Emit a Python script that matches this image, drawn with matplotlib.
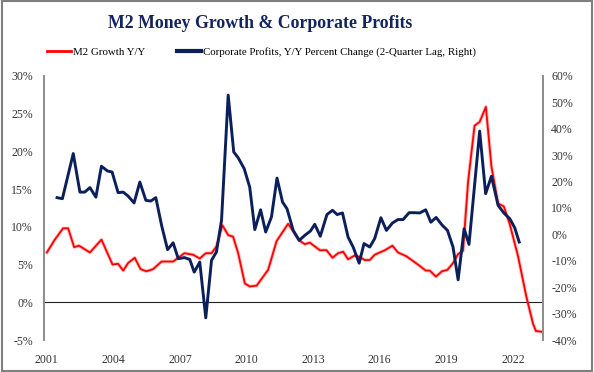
import matplotlib.pyplot as plt
import matplotlib.patches as mpatches
import matplotlib.ticker as ticker

# M2 growth y/y (left axis, %)
m2_x = [2001.0, 2001.36, 2001.73, 2001.96, 2002.23, 2002.45, 2002.94, 2003.46, 2003.96, 2004.21,
        2004.44, 2004.66, 2004.96, 2005.22, 2005.49, 2005.79, 2006.17, 2006.69, 2006.92, 2007.2,
        2007.59, 2007.89, 2008.16, 2008.42, 2008.64, 2008.91, 2009.17, 2009.39, 2009.62, 2009.92,
        2010.14, 2010.45, 2010.97, 2011.35, 2011.87, 2012.1, 2012.37, 2012.62, 2012.85, 2013.3,
        2013.6, 2013.87, 2014.12, 2014.35, 2014.57, 2014.87, 2015.1, 2015.32, 2015.55, 2015.77,
        2016.23, 2016.57, 2016.82, 2017.2, 2017.72, 2018.07, 2018.25, 2018.53, 2018.8, 2019.05,
        2019.3, 2019.53, 2019.75, 2019.98, 2020.27, 2020.5, 2020.78, 2021.03, 2021.33, 2021.59,
        2021.86, 2022.23, 2022.6, 2022.9, 2023.03, 2023.28]
m2_y = [6.6, 8.3, 9.8, 9.8, 7.3, 7.5, 6.6, 8.3, 5.0, 5.1,
        4.2, 5.2, 5.9, 4.4, 4.1, 4.4, 5.4, 5.4, 5.9, 6.5,
        6.3, 5.8, 6.5, 6.5, 7.4, 10.2, 8.9, 8.7, 6.5, 2.5,
        2.1, 2.2, 4.3, 8.1, 10.4, 9.4, 8.2, 7.7, 7.9, 6.9,
        6.9, 5.9, 6.5, 6.7, 5.7, 6.2, 6.0, 5.6, 5.6, 6.3,
        6.9, 7.5, 6.6, 6.1, 5.0, 4.2, 4.2, 3.4, 4.1, 4.3,
        5.2, 6.4, 6.8, 16.0, 23.4, 23.9, 25.9, 18.0, 13.1, 12.7,
        10.3, 6.1, 0.8, -2.8, -3.8, -3.9]

# corporate profits y/y, 2-quarter lag (right axis, %)
cp_x = [2001.46, 2001.7, 2002.19, 2002.49, 2002.71, 2002.94, 2003.21, 2003.46, 2003.73, 2003.94,
        2004.21, 2004.44, 2004.66, 2004.93, 2005.19, 2005.46, 2005.68, 2005.91, 2006.17, 2006.44,
        2006.69, 2006.92, 2007.2, 2007.44, 2007.64, 2007.89, 2008.16, 2008.42, 2008.64, 2008.87,
        2009.17, 2009.42, 2009.62, 2009.89, 2010.14, 2010.37, 2010.63, 2010.86, 2011.12, 2011.37,
        2011.62, 2011.82, 2012.1, 2012.37, 2012.62, 2012.88, 2013.07, 2013.32, 2013.62, 2013.87,
        2014.08, 2014.32, 2014.57, 2014.8, 2015.07, 2015.29, 2015.55, 2015.77, 2016.05, 2016.3,
        2016.57, 2016.82, 2017.05, 2017.32, 2017.58, 2017.8, 2018.07, 2018.3, 2018.54, 2018.8,
        2019.05, 2019.3, 2019.53, 2019.8, 2020.02, 2020.5, 2020.77, 2021.03, 2021.33, 2021.59,
        2021.86, 2022.08, 2022.28]
cp_y = [13.9, 13.5, 30.6, 16.0, 16.0, 17.7, 14.1, 25.8, 24.0, 23.6,
        15.8, 16.0, 14.5, 11.9, 19.8, 12.9, 12.6, 13.9, 3.4, -5.8,
        -3.2, -9.2, -8.8, -9.5, -14.3, -10.5, -31.6, -9.8, -6.7, 5.3,
        52.7, 31.2, 29.0, 24.9, 17.9, 1.8, 9.3, 0.9, 6.6, 21.3,
        12.2, 9.7, 1.5, -2.3, -0.4, 1.3, 3.8, -0.7, 7.5, 9.1,
        7.5, 8.1, -1.0, -4.8, -10.9, -3.5, -4.8, -1.6, 6.3, 1.5,
        4.3, 5.6, 5.6, 8.2, 8.2, 8.1, 9.3, 4.6, 6.4, 3.6,
        1.5, -4.8, -17.2, 2.1, -3.8, 39.1, 15.4, 22.0, 11.0, 8.1,
        5.9, 2.5, -2.9]

years = [2001, 2004, 2007, 2010, 2013, 2016, 2019, 2022]

navy = '#0B1F5B'
red = '#FF0000'
serif = 'Liberation Serif'

fig = plt.figure(figsize=(5.94, 3.72), dpi=100)
ax = fig.add_axes([0.074, 0.086, 0.84, 0.71])
ax2 = ax.twinx()

ax.axhline(0, color='#222222', linewidth=0.8, zorder=1)
# soft pink halo under the red line
ax.plot(m2_x, m2_y, color=red, alpha=0.25, linewidth=2.6, solid_joinstyle='round')
ax.plot(m2_x, m2_y, color=red, linewidth=1.3, solid_joinstyle='round')
ax2.plot(cp_x, cp_y, color=navy, linewidth=2.1, solid_joinstyle='round')

ax.set_xlim(2000.87, 2023.35)
ax.set_ylim(-5, 30)
ax2.set_ylim(-40, 60)
ax.set_xticks(years)
ax.set_yticks(range(-5, 31, 5))
ax2.set_yticks(range(-40, 61, 10))
ax.yaxis.set_major_formatter(ticker.FuncFormatter(lambda v, p: '%d%%' % v))
ax2.yaxis.set_major_formatter(ticker.FuncFormatter(lambda v, p: '%d%%' % v))

for a in (ax, ax2):
    for s in ('top', 'bottom'):
        a.spines[s].set_visible(False)
    a.spines['left'].set_color('#8C8C8C')
    a.spines['right'].set_color('#8C8C8C')
    a.spines['left'].set_linewidth(1.2)
    a.spines['right'].set_linewidth(1.2)
    a.tick_params(length=0, labelsize=8.5, labelcolor='#333333')
    for lab in a.get_xticklabels() + a.get_yticklabels():
        lab.set_fontfamily(serif)
ax.tick_params(axis='x', pad=10)
ax.tick_params(axis='y', pad=8)
ax2.tick_params(axis='y', pad=6)

fig.text(0.438, 0.937, 'M2 Money Growth & Corporate Profits', ha='center', va='center',
         fontsize=12.8, fontweight='bold', color='#14245E', fontfamily=serif)

handles = [
    plt.Line2D([], [], color=red, linewidth=2, label='M2 Growth Y/Y'),
    plt.Line2D([], [], color=navy, linewidth=3, label='Corporate Profits, Y/Y Percent Change (2-Quarter Lag, Right)'),
]
fig.legend(handles=handles, loc='center', bbox_to_anchor=(0.44, 0.86), ncol=2, frameon=False,
           prop={'family': serif, 'size': 7.8}, handlelength=2.2, handletextpad=0.15,
           columnspacing=3.0)

# grey frame round the picture
fig.patches.append(mpatches.Rectangle((0.003, 0.004), 0.994, 0.992, transform=fig.transFigure,
                                      fill=False, edgecolor='#7F7F7F', linewidth=1.5))

fig.savefig('out.png', dpi=100)
